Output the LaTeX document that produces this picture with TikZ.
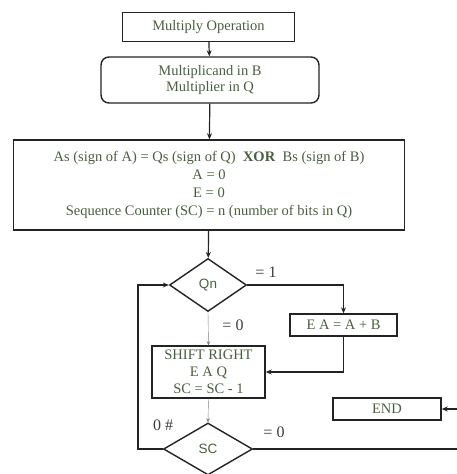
\documentclass[tikz,border=0pt]{standalone}
\usepackage{fontspec}
\setmainfont{Liberation Serif}
\newfontfamily\labelsans{Liberation Sans}
\usetikzlibrary{shapes.geometric,arrows.meta}
\definecolor{boxtext}{RGB}{72,96,62}
\definecolor{edge}{RGB}{35,35,35}
\definecolor{note}{RGB}{60,60,60}
\tikzset{
  stepbox/.style={draw=edge,line width=1.4pt,rectangle,inner sep=0pt,
    text=boxtext,font=\fontsize{14.5}{16}\selectfont,align=center},
  roundbox/.style={stepbox,rounded corners=8pt},
  decide/.style={draw=edge,line width=1.4pt,diamond,inner sep=0pt,
    text=boxtext,font=\labelsans\fontsize{13.5}{15}\selectfont},
  flow/.style={draw=edge,line width=1.2pt,-{Stealth[length=6pt,width=5pt]}},
  thinflow/.style={draw=gray,line width=0.4pt,-{Stealth[length=4pt,width=3.5pt]}},
  branch/.style={text=note,font=\fontsize{16}{18}\selectfont,inner sep=0pt}
}
\begin{document}
\begin{tikzpicture}[x=1pt,y=-1pt]
  \useasboundingbox (0,0) rectangle (457,474);
  \clip (0,0) rectangle (457,474);

  \node[stepbox,minimum width=172pt,minimum height=29pt] (op) at (208.5,27) {Multiply Operation};
  \node[roundbox,minimum width=218pt,minimum height=46pt] (init) at (210,80)
    {Multiplicand in B\\Multiplier in Q};
  \node[stepbox,minimum width=391pt,minimum height=90pt,
        font=\fontsize{14.5}{18}\selectfont] (setup) at (209,185)
    {As (sign of A) = Qs (sign of Q) \ \textbf{XOR} \ Bs (sign of B)\\
     A = 0\\ E = 0\\ Sequence Counter (SC) = n (number of bits in Q)};
  \node[decide,minimum width=77pt,minimum height=53pt] (qn) at (208,285) {Qn};
  \node[stepbox,minimum width=107pt,minimum height=22pt] (ea) at (343.5,325) {E A = A + B};
  \node[stepbox,minimum width=113pt,minimum height=52pt,
        font=\fontsize{14.5}{17}\selectfont] (shift) at (208.5,372)
    {SHIFT RIGHT\\E A Q\\SC = SC - 1};
  \node[decide,minimum width=89pt,minimum height=52pt] (sc) at (208,449) {SC};
  \node[stepbox,minimum width=108pt,minimum height=22pt] (end) at (387,409) {END};

  \coordinate (loopleft) at (138,449);
  \coordinate (loopright) at (470,449);

  \draw[flow] (op) -- (init);
  \draw[flow] (init) -- (setup);
  \draw[flow] (setup) -- (qn);
  \draw[flow] (qn.east) -| (ea.north);
  \draw[thinflow] (qn.south) -- (shift.north);
  \draw[flow] (ea.south) |- (shift.east);
  \draw[thinflow] (shift.south) -- (sc.north);
  \draw[flow] (sc.west) -- (loopleft) |- (qn.west);
  \draw[flow] (sc.east) -- (loopright) |- (end.east);

  \node[branch] (one) at (266,272) {= 1};
  \node[branch] (zeroa) at (233,325) {= 0};
  \node[branch] (nonzero) at (163,425) {0 \#};
  \node[branch] (zerob) at (274,432) {= 0};
\end{tikzpicture}
\end{document}
